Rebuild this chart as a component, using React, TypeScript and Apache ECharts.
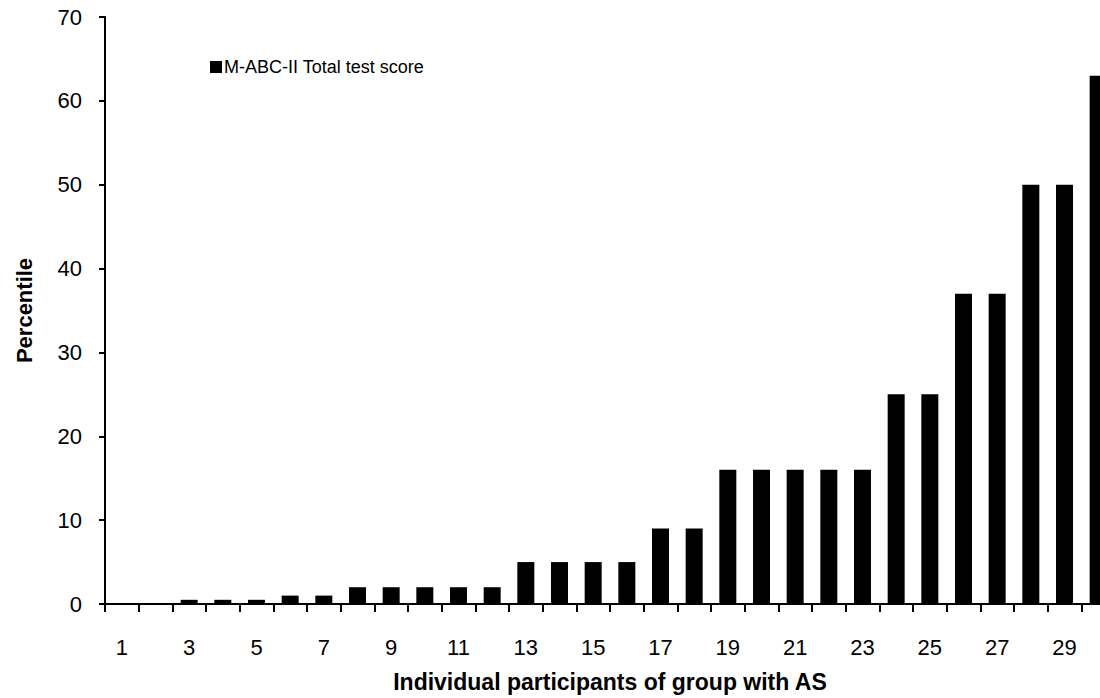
import React, { useEffect, useRef } from "react";
import * as echarts from "echarts";

const participants: string[] = Array.from({ length: 30 }, (_, i) => String(i + 1));
const percentileValues: number[] = [
  0.1, 0.1, 0.5, 0.5, 0.5, 1, 1, 2, 2, 2, 2, 2, 5, 5, 5, 5, 9, 9, 16, 16, 16, 16, 16, 25, 25, 37, 37, 50, 50, 63,
];
const seriesName = "M-ABC-II Total test score";
const xAxisTitle = "Individual participants of group with AS";
const yAxisTitle = "Percentile";

const FONT = "'Liberation Sans', Arial, sans-serif";

export default function App() {
  const ref = useRef<HTMLDivElement>(null);
  useEffect(() => {
    if (!ref.current) return;
    const chart = echarts.init(ref.current, undefined, { renderer: "svg" });
    chart.setOption({
      animation: false,
      backgroundColor: "#ffffff",
      textStyle: { fontFamily: FONT, color: "#000" },
      grid: { left: 105, right: 15, top: 17, bottom: 91, containLabel: false },
      legend: {
        data: [seriesName],
        left: 205,
        top: 53,
        itemWidth: 12,
        itemHeight: 12,
        icon: "rect",
        textStyle: { fontFamily: FONT, fontSize: 18, color: "#000", padding: [0, 0, 0, -3] },
      },
      xAxis: {
        type: "category",
        data: participants,
        boundaryGap: true,
        name: xAxisTitle,
        nameLocation: "middle",
        nameGap: 66,
        nameTextStyle: { fontFamily: FONT, fontSize: 23, fontWeight: "bold", color: "#000" },
        axisLine: { lineStyle: { color: "#000", width: 2 } },
        axisTick: { show: true, interval: 0, length: 8, alignWithLabel: false, lineStyle: { color: "#000", width: 2 } },
        axisLabel: { interval: 1, margin: 32, fontFamily: FONT, fontSize: 22, color: "#000" },
        splitLine: { show: false },
      },
      yAxis: {
        type: "value",
        min: 0,
        max: 70,
        interval: 10,
        name: yAxisTitle,
        nameLocation: "middle",
        nameGap: 70,
        nameTextStyle: { fontFamily: FONT, fontSize: 22, fontWeight: "bold", color: "#000" },
        axisLine: { show: true, lineStyle: { color: "#000", width: 2 } },
        axisTick: { show: true, length: 6, lineStyle: { color: "#000", width: 2 } },
        axisLabel: { margin: 23, fontFamily: FONT, fontSize: 22, color: "#000" },
        splitLine: { show: false },
      },
      series: [
        {
          name: seriesName,
          type: "bar",
          data: percentileValues,
          barWidth: 17,
          itemStyle: { color: "#000" },
        },
      ],
    });
    return () => chart.dispose();
  }, []);
  return (
    <div style={{ position: "fixed", left: 0, top: 0, width: 1100, height: 698, overflow: "hidden", background: "#fff" }}>
      <div ref={ref} style={{ width: 1130, height: 698 }} />
    </div>
  );
}
